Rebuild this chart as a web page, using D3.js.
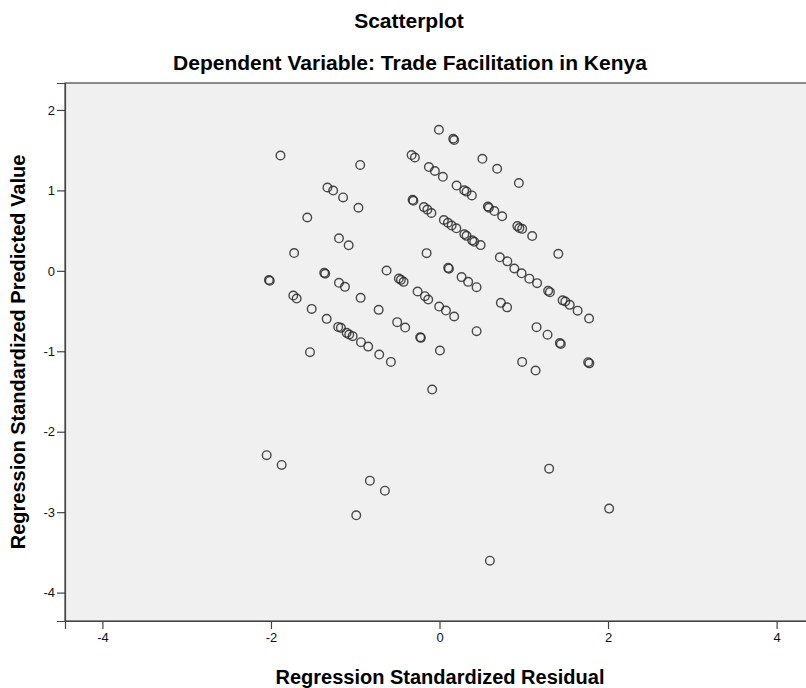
<!DOCTYPE html>
<html>
<head>
<meta charset="utf-8">
<script src="https://cdn.jsdelivr.net/npm/d3@7"></script>
<style>
  html, body { margin: 0; padding: 0; background: #ffffff; }
  svg { display: block; }
</style>
</head>
<body>
<script>
// ---- data ----
const titleText = "Scatterplot";
const subtitleText = "Dependent Variable: Trade Facilitation in Kenya";
const xLabel = "Regression Standardized Residual";
const yLabel = "Regression Standardized Predicted Value";
const xTicks = [-4, -2, 0, 2, 4];
const yTicks = [-4, -3, -2, -1, 0, 1, 2];

// Regression standardized residuals
const residuals = [
  -0.007, 0.163, 0.174, 0.509, 0.684, 0.942, -1.887, -0.941, -0.331, -0.292,
  -0.126, -0.055, 0.040, 0.203, 0.293, 0.321, 0.384, 0.574, 0.586, 0.651,
  0.744, 0.924, 0.948, 0.981, 1.100, 1.410, -1.330, -1.262, -1.144, -0.962,
  -1.569, -1.193, -1.078, -1.725, -0.319, -0.310, -0.185, -0.144, -0.096, -0.153,
  0.052, 0.100, 0.144, 0.200, 0.295, 0.321, 0.388, 0.412, 0.488, 0.716,
  0.805, 0.888, 0.974, 1.066, 1.158, 1.289, 1.310, 1.461, 1.493, 1.545,
  1.639, 1.775, 0.728, 0.802, 1.152, 1.282, 1.428, 1.440, 0.981, 1.140,
  1.764, 1.778, -2.024, -2.014, -1.368, -1.356, -1.193, -1.122, -0.628, -0.482,
  -0.458, -0.426, -0.260, -0.173, -0.134, -1.735, -1.695, -1.517, -0.936, -0.722,
  -1.339, -1.202, -1.170, -1.102, -1.071, -1.031, -0.932, -0.846, -0.715, -0.577,
  -0.502, -0.407, -0.229, -0.221, -1.537, 0.103, 0.112, 0.262, 0.340, 0.440,
  -0.004, 0.076, 0.174, 0.440, 0.005, -0.087,
  -2.051, -1.873, -0.826, -0.648, -0.988, 1.301, 2.013, 0.598
];
// Regression standardized predicted values
const predicted = [
  1.754, 1.642, 1.626, 1.393, 1.269, 1.092, 1.434, 1.316, 1.439, 1.409,
  1.290, 1.241, 1.169, 1.060, 1.001, 0.985, 0.937, 0.800, 0.784, 0.743,
  0.678, 0.556, 0.532, 0.522, 0.432, 0.211, 1.036, 0.998, 0.912, 0.784,
  0.663, 0.404, 0.317, 0.221, 0.883, 0.871, 0.792, 0.761, 0.719, 0.220,
  0.632, 0.597, 0.563, 0.529, 0.454, 0.435, 0.379, 0.361, 0.320, 0.168,
  0.118, 0.029, -0.031, -0.097, -0.153, -0.249, -0.265, -0.367, -0.382, -0.423,
  -0.495, -0.593, -0.398, -0.454, -0.700, -0.794, -0.898, -0.910, -1.132, -1.240,
  -1.136, -1.150, -0.114, -0.124, -0.025, -0.037, -0.149, -0.199, 0.004, -0.096,
  -0.112, -0.137, -0.257, -0.315, -0.357, -0.307, -0.345, -0.473, -0.336, -0.485,
  -0.597, -0.697, -0.709, -0.771, -0.792, -0.812, -0.887, -0.942, -1.041, -1.132,
  -0.638, -0.705, -0.825, -0.833, -1.011, 0.037, 0.027, -0.078, -0.137, -0.203,
  -0.444, -0.494, -0.568, -0.750, -0.991, -1.476,
  -2.292, -2.413, -2.608, -2.733, -3.039, -2.459, -2.956, -3.603
];

// ---- layout ----
const W = 806, H = 688;
const plot = { left: 65, right: 814, top: 83, bottom: 621 };
const FONT = "'Liberation Sans', Arial, sans-serif";

const svg = d3.select("body").append("svg")
  .attr("width", W).attr("height", H);

const x = d3.scaleLinear().domain([-4.444, 4.444]).range([plot.left, plot.right]);
const y = d3.scaleLinear().domain([-4.353, 2.335]).range([plot.bottom, plot.top]);

// plot background
svg.append("rect")
  .attr("x", plot.left).attr("y", plot.top)
  .attr("width", plot.right - plot.left).attr("height", plot.bottom - plot.top)
  .attr("fill", "#f0f0f0")
  .attr("stroke", "#444").attr("stroke-width", 1.2);

// axes
const xAxis = svg.append("g")
  .attr("transform", `translate(0,${plot.bottom})`)
  .call(d3.axisBottom(x).tickValues(xTicks).tickSizeOuter(0).tickSize(8).tickPadding(4).tickFormat(d3.format("d")));
const yAxis = svg.append("g")
  .attr("transform", `translate(${plot.left},0)`)
  .call(d3.axisLeft(y).tickValues(yTicks).tickSizeOuter(0).tickSize(8).tickPadding(2).tickFormat(d3.format("d")));

[xAxis, yAxis].forEach(g => {
  g.select(".domain").attr("stroke", "#444").attr("stroke-width", 1.2);
  g.selectAll(".tick line").attr("stroke", "#444").attr("stroke-width", 1.2);
  g.selectAll(".tick text")
    .attr("fill", "#111")
    .style("font-family", FONT)
    .style("font-size", "13px");
});
xAxis.selectAll(".tick text").text(d => String(d));
yAxis.selectAll(".tick text").text(d => String(d));

// points
const pts = residuals.map((r, i) => ({ r, p: predicted[i] }));
svg.append("g")
  .selectAll("circle")
  .data(pts)
  .join("circle")
  .attr("cx", d => x(d.r))
  .attr("cy", d => y(d.p))
  .attr("r", 4.3)
  .attr("fill", "none")
  .attr("stroke", "#2a2a2a")
  .attr("stroke-opacity", 0.85)
  .attr("stroke-width", 1.4);

// titles
svg.append("text")
  .attr("x", 409).attr("y", 28)
  .attr("text-anchor", "middle")
  .style("font-family", FONT).style("font-weight", "bold").style("font-size", "21px")
  .text(titleText);
svg.append("text")
  .attr("x", 410).attr("y", 70)
  .attr("text-anchor", "middle")
  .style("font-family", FONT).style("font-weight", "bold").style("font-size", "21px")
  .text(subtitleText);

// axis titles
svg.append("text")
  .attr("x", 440).attr("y", 684)
  .attr("text-anchor", "middle")
  .style("font-family", FONT).style("font-weight", "bold").style("font-size", "20px")
  .text(xLabel);
svg.append("text")
  .attr("transform", `translate(25,${(plot.top + plot.bottom) / 2}) rotate(-90)`)
  .attr("text-anchor", "middle")
  .style("font-family", FONT).style("font-weight", "bold").style("font-size", "20px")
  .text(yLabel);
</script>
</body>
</html>
